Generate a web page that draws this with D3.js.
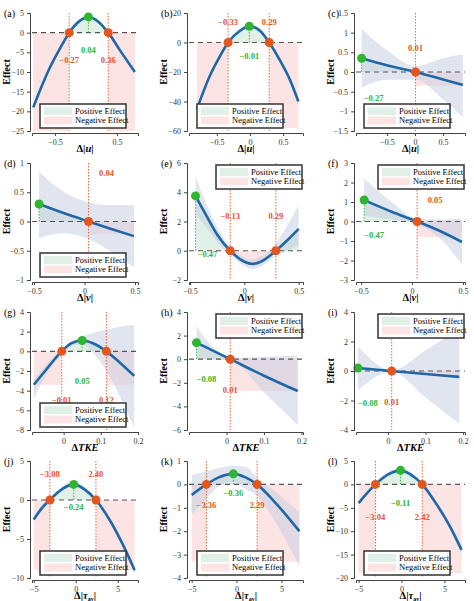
<!DOCTYPE html>
<html><head><meta charset="utf-8">
<script src="https://cdn.jsdelivr.net/npm/d3@7"></script>
<style>body{margin:0;background:#fff}text{font-family:"Liberation Serif","DejaVu Serif",serif}</style>
</head><body><svg id="c" width="474" height="601"></svg>
<script>
const panelNames=["(a)","(b)","(c)","(d)","(e)","(f)","(g)","(h)","(i)","(j)","(k)","(l)"];
const xDomains=[[-0.87,0.84],[-0.92,0.8],[-1.05,0.89],[-0.52,0.53],[-0.51,0.54],[-0.55,0.52],[-0.085,0.2],[-0.1,0.204],[-0.085,0.205],[-5.2,7.4],[-5.3,7.4],[-5.3,7.4]];
const yDomains=[[-25,5],[-60,20],[-1.5,1.5],[-1,1],[-2,6],[-3,3],[-8,4],[-6,4],[-4,4],[-10,5],[-4,1],[-20,5]];
const xTicks=[[-0.5,0.5],[-0.5,0,0.5],[-0.5,0,0.5],[-0.5,0,0.5],[-0.5,0,0.5],[-0.5,0,0.5],[0,0.1,0.2],[0,0.1,0.2],[0,0.1,0.2],[-5,0,5],[-5,0,5],[-5,0,5]];
const yTicks=[[-25,-20,-15,-10,-5,0,5],[-60,-40,-20,0,20],[-1.5,-1,-0.5,0,0.5,1,1.5],[-1,-0.5,0,0.5,1],[-2,0,2,4,6],[-3,-2,-1,0,1,2,3],[-8,-6,-4,-2,0,2,4],[-6,-4,-2,0,2,4],[-4,-2,0,2,4],[-10,-5,0,5],[-4,-3,-2,-1,0,1],[-20,-15,-10,-5,0,5]];
const curveX=[
[-0.85,-0.6,-0.4,-0.27,-0.1,0.04,0.2,0.36,0.55,0.79],
[-0.8,-0.6,-0.45,-0.33,-0.15,-0.01,0.15,0.29,0.45,0.6,0.73],
[-0.95,-0.5,0.01,0.5,0.85],
[-0.45,-0.2,0.04,0.25,0.49],
[-0.45,-0.35,-0.25,-0.13,0,0.07,0.15,0.29,0.4,0.5],
[-0.47,-0.2,0.05,0.3,0.49],
[-0.08,-0.05,-0.005,0.02,0.05,0.08,0.115,0.15,0.19],
[-0.08,0.01,0.1,0.19],
[-0.08,0.01,0.1,0.19],
[-5,-4,-3.08,-2,-0.24,1,2.4,4,5.5,7],
[-5,-3.36,-2,-0.36,1,2.29,4,5.5,7],
[-5,-3.04,-1.5,-0.11,1,2.42,4,5.5,7]];
const curveY=[
[-19,-9.5,-3.5,0,3,4,2.8,0,-4.5,-10],
[-45,-22,-9,0,8,11,8,0,-12,-25,-40],
[0.35,0.17,0,-0.19,-0.33],
[0.3,0.14,0,-0.12,-0.25],
[3.75,2.4,1.1,0,-0.75,-0.9,-0.75,0,0.75,1.5],
[1.1,0.5,0,-0.55,-1.05],
[-3.4,-2,0,0.8,1.1,0.8,0,-1.1,-2.5],
[1.4,0,-1.4,-2.7],
[0.2,0,-0.2,-0.4],
[-2.5,-1,0,1.1,2,1.4,0,-2.5,-5.5,-9],
[-0.45,0,0.3,0.45,0.3,0,-0.65,-1.3,-2],
[-4,0,2.2,3,2.2,0,-4,-8.5,-14]];
const bandHi=[
[-18.5,-9.1,-3.1,0.4,3.4,4.4,3.2,0.4,-4.1,-9.5],
[-43.5,-20.5,-7.5,1.5,9.5,12.5,9.5,1.5,-10.5,-23.5,-38],
[1.1,0.55,0.15,0.35,0.45],
[0.85,0.5,0.33,0.28,0.28],
[5.1,3.2,1.6,0.25,-0.45,-0.6,-0.4,0.5,1.8,3.1],
[2.2,1.0,0.15,0.1,0.15],
[-2.9,-1.5,0.3,1.0,1.5,1.9,2.2,2.5,2.7],
[2.8,0.1,0.2,0.3],
[1.7,0.05,1.4,2.9],
[-2.2,-0.7,0.3,1.4,2.3,1.7,0.3,-2.2,-5.1,-8.5],
[0.4,0.55,0.7,0.8,0.75,0.3,-0.2,-0.7,-1.2],
[-3.5,0.5,2.7,3.5,2.7,0.5,-3.4,-7.8,-13]];
const bandLo=[
[-19.5,-9.9,-3.9,-0.4,2.6,3.6,2.4,-0.4,-4.9,-10.5],
[-46.5,-23.5,-10.5,-1.5,6.5,9.5,6.5,-1.5,-13.5,-26.5,-42],
[-0.4,-0.2,-0.2,-0.7,-1.15],
[-0.28,-0.2,-0.3,-0.5,-0.78],
[2.5,1.6,0.6,-0.25,-1.05,-1.25,-1.1,-0.35,0.0,0.4],
[0.3,0.1,-0.15,-1.0,-2.2],
[-4.8,-2.6,-0.3,0.5,0.7,-0.2,-2,-4.5,-7.8],
[0,-0.1,-2.8,-5.6],
[-1.3,-0.05,-1.8,-3.6],
[-2.8,-1.3,-0.3,0.8,1.7,1.1,-0.3,-2.8,-5.9,-9.5],
[-1.3,-0.6,-0.1,0.1,-0.2,-0.5,-1.4,-2.4,-3.5],
[-4.5,-0.5,1.7,2.5,1.7,-0.5,-4.6,-9.2,-15]];
const roots=[[-0.27,0.36],[-0.33,0.29],[0.01],[0.04],[-0.13,0.29],[0.05],[-0.005,0.115],[0.01],[0.01],[-3.08,2.4],[-3.36,2.29],[-3.04,2.42]];
const rootLabels=[["\u22120.27","0.36"],["\u22120.33","0.29"],["0.01"],["0.04"],["\u22120.13","0.29"],["0.05"],["\u22120.01","0.12"],["0.01"],["0.01"],["\u22123.08","2.40"],["\u22123.36","2.29"],["\u22123.04","2.42"]];
const peaks=[[0.04,4],[-0.01,11],[-0.95,0.35],[-0.45,0.3],[-0.45,3.75],[-0.47,1.1],[0.05,1.1],[-0.08,1.4],[-0.08,0.2],[-0.24,2],[-0.36,0.45],[-0.11,3]];
const peakLabels=["0.04","\u22120.01","\u22120.27","\u22120.47","\u22120.47","\u22120.47","0.05","\u22120.08","\u22120.08","\u22120.24","\u22120.36","\u22120.11"];
const legendTexts=["Positive Effect","Negative Effect"];

// layout (positions, not data)
const colL=[32,189,356], colR=[138,303,465], rowT=[13,163,312,461], rowB=[131,280,430,578];
const rootLabY=[[-7,-7],[14,14],[0.6],[0.83],[2.4,2.4],[1.1],[-5,-5],[-2.6],[-2.1],[3.3,3.3],[-0.9,-0.9],[-7,-7]];
const rootLabDX=[[0,0],[0,0],[0],[18],[0,0],[18],[0,0],[0],[0],[0,0],[0,0],[0,0]];
const peakLabY=[-4.5,-9,-0.65,-0.67,-0.2,-0.7,-3,-1.7,-2.2,-0.9,-0.35,-4];
const peakLabDX=[0,0,12,10,12,10,0,10,10,0,0,0];
const pinkTo=[-25,-58,-0.35,-0.22,null,-0.8,-3.4,-2.7,null,-9,-3.3,-19];
const legendTop=[false,false,false,false,true,true,false,true,true,false,false,false];
const xLab=["u","u","u","v","v","v","TKE","TKE","TKE","tau","tau","tau"];

const svg=d3.select("#c");
const RED="#e2571e",GREEN="#2fb52f",BLUE="#1f68a8";
for(let p=0;p<12;p++){
  const r=Math.floor(p/3),c=p%3;
  const L=colL[c],R=colR[c],T=rowT[r],B=rowB[r];
  const x=d3.scaleLinear().domain(xDomains[p]).range([L,R]);
  const y=d3.scaleLinear().domain(yDomains[p]).range([B,T]);
  const g=svg.append("g");
  const pts=curveX[p].map((v,i)=>({x:v,y:curveY[p][i],lo:bandLo[p][i],hi:bandHi[p][i]}));
  const cx=d3.scaleLinear().domain(curveX[p]).range(curveY[p]);
  const dense=d3.range(0,201).map(i=>{const xv=curveX[p][0]+(curveX[p][curveX[p].length-1]-curveX[p][0])*i/200;return [xv,cx(xv)];});
  g.append("path").attr("d",d3.area().defined(d=>d[1]>=0).x(d=>x(d[0])).y0(y(0)).y1(d=>y(d[1]))(dense)).attr("fill","#e0f0e6");
  const pt=pinkTo[p];
  g.append("path").attr("d",d3.area().defined(d=>d[1]<=0).x(d=>x(d[0])).y0(y(0)).y1(d=>y(pt===null?d[1]:pt))(dense)).attr("fill","#fce4e4");
  g.append("path").attr("d",d3.area().curve(d3.curveMonotoneX).x(d=>x(d.x)).y0(d=>y(d.lo)).y1(d=>y(d.hi))(pts)).attr("fill","#c8cfe2").attr("opacity",0.55);
  g.append("line").attr("x1",L).attr("x2",R).attr("y1",y(0)).attr("y2",y(0)).attr("stroke","#555").attr("stroke-width",1.2).attr("stroke-dasharray","5,4");
  roots[p].forEach(rt=>g.append("line").attr("x1",x(rt)).attr("x2",x(rt)).attr("y1",T).attr("y2",B).attr("stroke",RED).attr("stroke-width",0.9).attr("stroke-dasharray","1.5,1.5"));
  g.append("line").attr("x1",x(peaks[p][0])).attr("x2",x(peaks[p][0])).attr("y1",y(0)).attr("y2",y(peaks[p][1])).attr("stroke",GREEN).attr("stroke-width",0.9).attr("stroke-dasharray","1.5,1.5");
  g.append("path").attr("d",d3.line().curve(d3.curveMonotoneX).x(d=>x(d.x)).y(d=>y(d.y))(pts)).attr("fill","none").attr("stroke",BLUE).attr("stroke-width",2.6);
  roots[p].forEach(rt=>g.append("circle").attr("cx",x(rt)).attr("cy",y(0)).attr("r",4.5).attr("fill",RED));
  g.append("circle").attr("cx",x(peaks[p][0])).attr("cy",y(peaks[p][1])).attr("r",4.5).attr("fill",GREEN);
  roots[p].forEach((rt,i)=>g.append("text").attr("x",x(rt)+rootLabDX[p][i]).attr("y",y(rootLabY[p][i])).attr("text-anchor","middle").attr("dy","0.35em").attr("font-size",8.5).attr("font-weight","bold").attr("fill",RED).text(rootLabels[p][i]));
  g.append("text").attr("x",x(peaks[p][0])+peakLabDX[p]).attr("y",y(peakLabY[p])).attr("text-anchor","middle").attr("dy","0.35em").attr("font-size",8.5).attr("font-weight","bold").attr("fill",GREEN).text(peakLabels[p]);
  const ya=g.append("g").attr("transform",`translate(${L-2},0)`).call(d3.axisLeft(y).tickValues(yTicks[p]).tickSize(3).tickFormat(d=>(d<0?"\u2212":"")+Math.abs(d)));
  const xa=g.append("g").attr("transform",`translate(0,${B+2})`).call(d3.axisBottom(x).tickValues(xTicks[p]).tickSize(3).tickFormat(d=>(d<0?"\u2212":"")+Math.abs(d)));
  [ya,xa].forEach(a=>{a.selectAll("text").attr("font-size",8).attr("fill","#333").attr("font-family","Liberation Serif");a.selectAll("path,line").attr("stroke","#444");});
  g.append("text").attr("x",L-28).attr("y",T+4).attr("font-size",10).text(panelNames[p]);
  g.append("text").attr("transform",`translate(${L-22},${(T+B)/2}) rotate(-90)`).attr("text-anchor","middle").attr("font-size",10).attr("font-weight","bold").text("Effect");
  const xt=g.append("text").attr("x",(L+R)/2).attr("y",B+21).attr("text-anchor","middle").attr("font-size",10.5).attr("font-weight","bold");
  if(xLab[p]==="TKE"){xt.append("tspan").text("\u0394");xt.append("tspan").attr("font-style","italic").text("TKE");}
  else if(xLab[p]==="tau"){xt.append("tspan").text("\u0394|");xt.append("tspan").attr("font-style","italic").text("\u03c4");xt.append("tspan").attr("font-size",6).attr("dy",2).text("av");xt.append("tspan").attr("dy",-2).text("|");}
  else {xt.append("tspan").text("\u0394|");xt.append("tspan").attr("font-style","italic").text(xLab[p]);xt.append("tspan").text("|");}
  const lw=86,lh=24;
  const lx=legendTop[p]?R-lw-1:L+8, ly=legendTop[p]?T+2:B-lh-3;
  const lg=g.append("g").attr("transform",`translate(${lx},${ly})`);
  lg.append("rect").attr("width",lw).attr("height",lh).attr("fill","#fff").attr("stroke","#333").attr("stroke-width",1.5);
  ["#e0f0e6","#fce4e4"].forEach((col,i)=>{
    lg.append("rect").attr("x",4).attr("y",3+i*9.5).attr("width",28).attr("height",8).attr("fill",col);
    lg.append("text").attr("x",35).attr("y",7+i*9.5).attr("dy","0.35em").attr("font-size",8.5).text(legendTexts[i]);
  });
}
</script></body></html>
